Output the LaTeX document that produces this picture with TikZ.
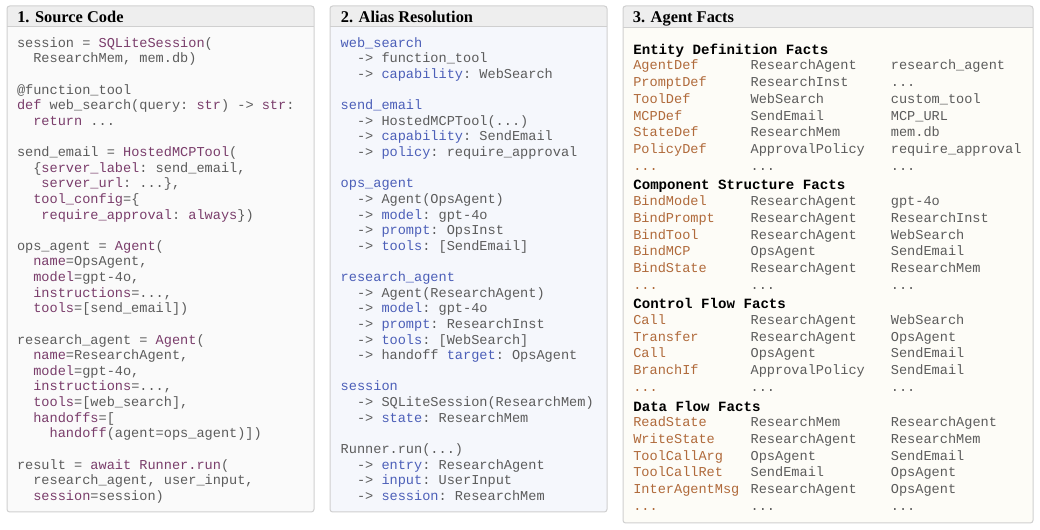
\documentclass[tikz,border=0pt]{standalone}
\usepackage{fontspec}
\setmainfont{Liberation Serif}
\setmonofont{Liberation Mono}
\usepackage{tikz}

% colours
\definecolor{codegray}{HTML}{5C5C5C}
\definecolor{kwpurple}{HTML}{7A3D6B}
\definecolor{keyblue}{HTML}{4C5FB8}
\definecolor{predbrown}{HTML}{B06A3B}
\definecolor{framegray}{HTML}{CFCFCF}
\definecolor{headbg}{HTML}{EEEEEE}
\definecolor{srcbg}{HTML}{FAFAFA}
\definecolor{aliasbg}{HTML}{F5F7FC}
\definecolor{factbg}{HTML}{FDFCF7}

% text helpers
\newcommand{\srckw}[1]{\textcolor{kwpurple}{#1}}
\newcommand{\aliaskey}[1]{\textcolor{keyblue}{#1}}
\newcommand{\factpred}[1]{\textcolor{predbrown}{#1}}
\newcommand{\twosp}{\hspace*{1.2em}}
\newcommand{\threesp}{\hspace*{1.8em}}
\newcommand{\foursp}{\hspace*{2.4em}}
\newcommand{\factrow}[3]{\makebox[88pt][l]{\factpred{#1}}\makebox[105.2pt][l]{#2}#3}
\newcommand{\facthead}[1]{{\fontsize{10.6}{12.6}\selectfont\bfseries\color{black}#1}}

\begin{document}
\begin{tikzpicture}[x=0.75pt, y=-0.75pt,
  frame/.style={draw=framegray, line width=0.75pt, rounded corners=2pt},
  headsep/.style={draw=framegray, line width=0.75pt},
  title/.style={anchor=base west, inner sep=0pt, font=\fontsize{12.3}{14}\selectfont\bfseries},
  code/.style={anchor=north west, inner sep=0pt, outer sep=0pt, align=left, text=codegray,
    font=\fontsize{10.2}{11.72}\selectfont\ttfamily},
  facts/.style={code, font=\fontsize{10.2}{12.6}\selectfont\ttfamily}]
\useasboundingbox (0,0) rectangle (1040,530);

% Panel 1: source code
\begin{scope}
  \clip[rounded corners=2pt] (7,6) rectangle (314,512);
  \fill[srcbg] (7,6) rectangle (314,512);
  \fill[headbg] (7,6) rectangle (314,27);
\end{scope}
\draw[headsep] (7,27) -- (314,27);
\draw[frame] (7,6) rectangle (314,512);
\node[title] (title1) at (17,22.5) {1. Source Code};

\node[code] (src) at (17,36.2) {\strut session = \srckw{SQLiteSession}(\\
\twosp ResearchMem, mem.db)\\[11.72pt]
@function\_tool\\
\srckw{def} web\_search(query: \srckw{str}) -> \srckw{str}:\\
\twosp\srckw{return} ...\\[11.72pt]
send\_email = \srckw{HostedMCPTool}(\\
\twosp\{\srckw{server\_label}: send\_email,\\
\threesp\srckw{server\_url}: ...\},\\
\twosp\srckw{tool\_config}=\{\\
\threesp\srckw{require\_approval}: \srckw{always}\})\\[11.72pt]
ops\_agent = \srckw{Agent}(\\
\twosp\srckw{name}=OpsAgent,\\
\twosp\srckw{model}=gpt-4o,\\
\twosp\srckw{instructions}=...,\\
\twosp\srckw{tools}=[send\_email])\\[11.72pt]
research\_agent = \srckw{Agent}(\\
\twosp\srckw{name}=ResearchAgent,\\
\twosp\srckw{model}=gpt-4o,\\
\twosp\srckw{instructions}=...,\\
\twosp\srckw{tools}=[web\_search],\\
\twosp\srckw{handoffs}=[\\
\foursp\srckw{handoff}(agent=ops\_agent)])\\[11.72pt]
result = \srckw{await} \srckw{Runner.run}(\\
\twosp research\_agent, user\_input,\\
\twosp\srckw{session}=session)};

% Panel 2: alias resolution
\begin{scope}
  \clip[rounded corners=2pt] (330,6) rectangle (607,512);
  \fill[aliasbg] (330,6) rectangle (607,512);
  \fill[headbg] (330,6) rectangle (607,27);
\end{scope}
\draw[headsep] (330,27) -- (607,27);
\draw[frame] (330,6) rectangle (607,512);
\node[title] (title2) at (340.7,22.5) {2. Alias Resolution};

\node[code] (alias) at (340.7,36.2) {\strut\aliaskey{web\_search}\\
\twosp -> function\_tool\\
\twosp -> \aliaskey{capability}: WebSearch\\[11.72pt]
\aliaskey{send\_email}\\
\twosp -> HostedMCPTool(...)\\
\twosp -> \aliaskey{capability}: SendEmail\\
\twosp -> \aliaskey{policy}: require\_approval\\[11.72pt]
\aliaskey{ops\_agent}\\
\twosp -> Agent(OpsAgent)\\
\twosp -> \aliaskey{model}: gpt-4o\\
\twosp -> \aliaskey{prompt}: OpsInst\\
\twosp -> \aliaskey{tools}: [SendEmail]\\[11.72pt]
\aliaskey{research\_agent}\\
\twosp -> Agent(ResearchAgent)\\
\twosp -> \aliaskey{model}: gpt-4o\\
\twosp -> \aliaskey{prompt}: ResearchInst\\
\twosp -> \aliaskey{tools}: [WebSearch]\\
\twosp -> handoff \aliaskey{target}: OpsAgent\\[11.72pt]
\aliaskey{session}\\
\twosp -> SQLiteSession(ResearchMem)\\
\twosp -> \aliaskey{state}: ResearchMem\\[11.72pt]
Runner.run(...)\\
\twosp -> \aliaskey{entry}: ResearchAgent\\
\twosp -> \aliaskey{input}: UserInput\\
\twosp -> \aliaskey{session}: ResearchMem};

% Panel 3: agent facts
\begin{scope}
  \clip[rounded corners=2pt] (623,6) rectangle (1033,523);
  \fill[factbg] (623,6) rectangle (1033,523);
  \fill[headbg] (623,6) rectangle (1033,28);
\end{scope}
\draw[headsep] (623,28) -- (1033,28);
\draw[frame] (623,6) rectangle (1033,523);
\node[title] (title3) at (632.7,22.5) {3. Agent Facts};

\node[facts] (facts) at (633.3,42.5) {\strut\facthead{Entity Definition Facts}\\[-1pt]
\factrow{AgentDef}{ResearchAgent}{research\_agent}\\
\factrow{PromptDef}{ResearchInst}{...}\\
\factrow{ToolDef}{WebSearch}{custom\_tool}\\
\factrow{MCPDef}{SendEmail}{MCP\_URL}\\
\factrow{StateDef}{ResearchMem}{mem.db}\\
\factrow{PolicyDef}{ApprovalPolicy}{require\_approval}\\
\factrow{...}{...}{...}\\[2pt]
\facthead{Component Structure Facts}\\[-1pt]
\factrow{BindModel}{ResearchAgent}{gpt-4o}\\
\factrow{BindPrompt}{ResearchAgent}{ResearchInst}\\
\factrow{BindTool}{ResearchAgent}{WebSearch}\\
\factrow{BindMCP}{OpsAgent}{SendEmail}\\
\factrow{BindState}{ResearchAgent}{ResearchMem}\\
\factrow{...}{...}{...}\\[2pt]
\facthead{Control Flow Facts}\\[-1pt]
\factrow{Call}{ResearchAgent}{WebSearch}\\
\factrow{Transfer}{ResearchAgent}{OpsAgent}\\
\factrow{Call}{OpsAgent}{SendEmail}\\
\factrow{BranchIf}{ApprovalPolicy}{SendEmail}\\
\factrow{...}{...}{...}\\[2pt]
\facthead{Data Flow Facts}\\[-1pt]
\factrow{ReadState}{ResearchMem}{ResearchAgent}\\
\factrow{WriteState}{ResearchAgent}{ResearchMem}\\
\factrow{ToolCallArg}{OpsAgent}{SendEmail}\\
\factrow{ToolCallRet}{SendEmail}{OpsAgent}\\
\factrow{InterAgentMsg}{ResearchAgent}{OpsAgent}\\
\factrow{...}{...}{...}};

\end{tikzpicture}
\end{document}
